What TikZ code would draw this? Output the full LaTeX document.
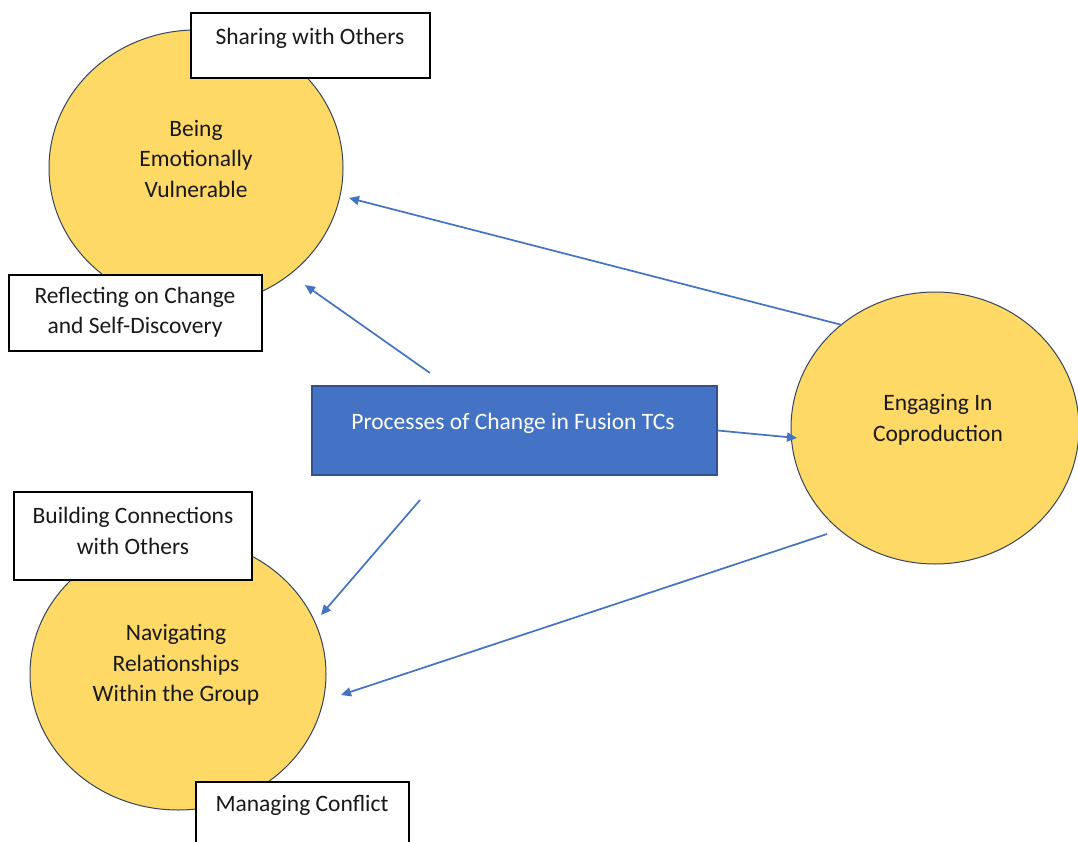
\documentclass[tikz,border=0pt]{standalone}
\usepackage{fontspec}
\setmainfont{Carlito}
\usetikzlibrary{shapes.geometric,arrows.meta}
\definecolor{themegold}{HTML}{FFD966}
\definecolor{themeblue}{HTML}{4472C4}
\definecolor{themeedge}{HTML}{2F528F}
\definecolor{ringedge}{HTML}{34445E}
\tikzset{
  theme/.style={ellipse, draw=ringedge, line width=1pt, fill=themegold, inner sep=0pt},
  tagbox/.style={draw=black, line width=1.4pt, fill=white, inner sep=0pt},
  txt/.style={font=\fontsize{23.5}{30.5}\selectfont, align=center, inner sep=0pt, text=black!90},
  link/.style={draw=themeblue, line width=1.7pt, -{Triangle[length=10pt,width=9pt]}},
}
\begin{document}
\begin{tikzpicture}[x=1pt,y=-1pt]
\useasboundingbox (0,0) rectangle (1078,842);
\clip (0,0) rectangle (1078,842);
\fill[white] (0,0) rectangle (1078,842);

% theme circles
\node[theme, minimum width=294pt, minimum height=276pt] (vuln) at (196,168) {};
\node[theme, minimum width=296pt, minimum height=272pt] (nav) at (178,674) {};
\node[theme, minimum width=288pt, minimum height=272pt] (coprod) at (935,428) {};

\node[txt] (vulnT) at (196,159) {Being\\Emotionally\\Vulnerable};
\node[txt] (navT) at (176,665) {Navigating\\Relationships\\Within the Group};
\node[txt] (coprodT) at (938,420) {Engaging In\\Coproduction};

% subtheme boxes
\node[tagbox, minimum width=239pt, minimum height=65pt] (share) at (310.5,45.5) {};
\node[txt] (shareT) at (310,38) {Sharing with Others};
\node[tagbox, minimum width=253pt, minimum height=76pt] (reflect) at (135.5,313) {};
\node[txt] (reflectT) at (135,312) {Reflecting on Change\\and Self-Discovery};
\node[tagbox, minimum width=238pt, minimum height=88pt] (build) at (133,536) {};
\node[txt] (buildT) at (133,531) {Building Connections\\with Others};
\node[tagbox, minimum width=213pt, minimum height=90pt] (conflict) at (302.5,827) {};
\node[txt] (conflictT) at (302,805) {Managing Conflict};

% central process box
\node[draw=themeedge, line width=1.2pt, fill=themeblue, minimum width=405pt, minimum height=89pt, inner sep=0pt] (proc) at (514.5,430.5) {};
\node[txt, text=white] (procT) at (513,423) {Processes of Change in Fusion TCs};

% arrow ends
\coordinate (p1s) at (430,373);
\coordinate (p1e) at (305,285);
\coordinate (p4s) at (420,500);
\coordinate (p4e) at (321,615);
\coordinate (c2s) at (842,325);
\coordinate (c2e) at (349,198);
\coordinate (c5s) at (827,534);
\coordinate (c5e) at (341,695);
\coordinate (c3e) at (797,438);

% connectors
\draw[link] (p1s) -- (p1e);
\draw[link] (p4s) -- (p4e);
\draw[link] (proc.east) -- (c3e);
\draw[link] (c2s) -- (c2e);
\draw[link] (c5s) -- (c5e);
\end{tikzpicture}
\end{document}
